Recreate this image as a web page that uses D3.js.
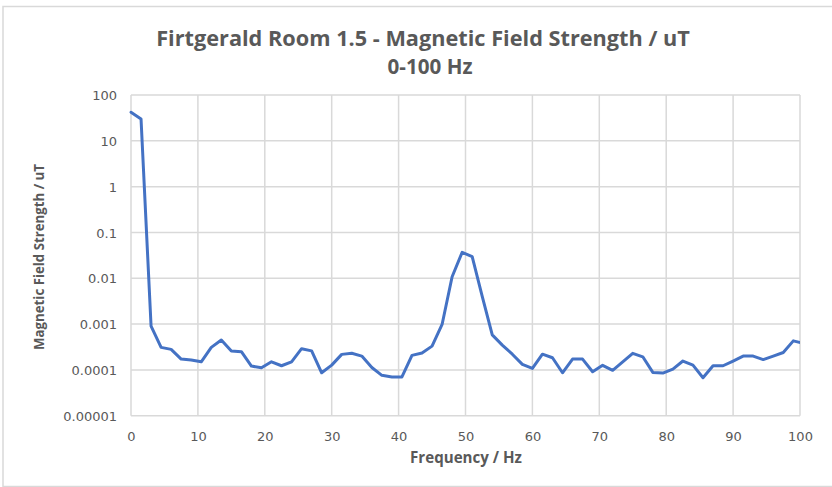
<!DOCTYPE html>
<html>
<head>
<meta charset="utf-8">
<script src="https://cdn.jsdelivr.net/npm/d3@7"></script>
<style>
  html, body { margin: 0; padding: 0; background: #fff; }
  svg { display: block; }
</style>
</head>
<body>
<svg id="chart" width="832" height="487"></svg>
<script>
const titleLines = ["Firtgerald Room 1.5 - Magnetic Field Strength / uT", "0-100 Hz"];
const xAxisTitle = "Frequency / Hz";
const yAxisTitle = "Magnetic Field Strength / uT";

const frequency = [0, 1.5, 3, 4.5, 6, 7.5, 9, 10.5, 12, 13.5, 15, 16.5, 18, 19.5, 21, 22.5, 24, 25.5, 27, 28.5,
  30, 31.5, 33, 34.5, 36, 37.5, 39, 40.5, 42, 43.5, 45, 46.5, 48, 49.5, 51, 52.5, 54, 55.5, 57, 58.5,
  60, 61.5, 63, 64.5, 66, 67.5, 69, 70.5, 72, 73.5, 75, 76.5, 78, 79.5, 81, 82.5, 84, 85.5, 87, 88.5,
  90, 91.5, 93, 94.5, 96, 97.5, 99, 100.5];
const strength = [42, 30, 0.0009, 0.00031, 0.00028, 0.000172, 0.000164, 0.00015, 0.00031, 0.00045,
  0.000257, 0.00025, 0.000121, 0.000111, 0.00015, 0.000123, 0.00015, 0.00029, 0.00026, 0.0000865,
  0.000127, 0.000218, 0.00023, 0.0002, 0.000113, 0.000076, 0.00007, 0.00007, 0.000207, 0.000233,
  0.00033, 0.00098, 0.0108, 0.0368, 0.0295, 0.004, 0.00058, 0.000348, 0.00022, 0.000132,
  0.000108, 0.00022, 0.000184, 0.0000865, 0.000172, 0.000172, 0.000091, 0.000126, 0.000098, 0.00015,
  0.00023, 0.000193, 0.000088, 0.000085, 0.000104, 0.000156, 0.000127, 0.0000673, 0.000123, 0.000123,
  0.000156, 0.0002, 0.0002, 0.000168, 0.0002, 0.00024, 0.00043, 0.00038];

const xTicks = [0, 10, 20, 30, 40, 50, 60, 70, 80, 90, 100];
const yTicks = [0.00001, 0.0001, 0.001, 0.01, 0.1, 1, 10, 100];
const yTickLabels = ["0.00001", "0.0001", "0.001", "0.01", "0.1", "1", "10", "100"];

const svg = d3.select("#chart");
const plot = { left: 131, right: 800, top: 95, bottom: 415.7 };
const grid = "#d9d9d9";
const textCol = "#595959";

// chart frame
svg.append("rect").attr("x", 3).attr("y", 6.5).attr("width", 900).attr("height", 480)
  .attr("fill", "#fff").attr("stroke", "#d9d9d9").attr("stroke-width", 1.5);

const x = d3.scaleLinear().domain([0, 100]).range([plot.left, plot.right]);
const y = d3.scaleLog().domain([0.00001, 100]).range([plot.bottom, plot.top]);

// gridlines
const g = svg.append("g");
g.selectAll("line.h").data(yTicks).join("line")
  .attr("x1", plot.left).attr("x2", plot.right)
  .attr("y1", d => y(d)).attr("y2", d => y(d))
  .attr("stroke", grid).attr("stroke-width", 1.5);
g.selectAll("line.v").data(xTicks).join("line")
  .attr("y1", plot.top).attr("y2", plot.bottom)
  .attr("x1", d => x(d)).attr("x2", d => x(d))
  .attr("stroke", grid).attr("stroke-width", 1.5);

// axes
const xAxis = d3.axisBottom(x).tickValues(xTicks).tickSize(0).tickPadding(0).tickFormat(d3.format("d"));
const xg = svg.append("g").attr("transform", `translate(0,${plot.bottom})`).call(xAxis);
xg.select(".domain").remove();
xg.selectAll("text").attr("dy", null).attr("y", 25)
  .attr("font-family", "DejaVu Sans").attr("font-size", 13).attr("fill", textCol);

const yAxis = d3.axisLeft(y).tickValues(yTicks).tickSize(0).tickPadding(0)
  .tickFormat((d, i) => yTickLabels[i]);
const yg = svg.append("g").attr("transform", `translate(${plot.left - 14},0)`).call(yAxis);
yg.select(".domain").remove();
yg.selectAll("text").attr("dy", "0.35em")
  .attr("font-family", "DejaVu Sans").attr("font-size", 13).attr("fill", textCol);

// clip
svg.append("clipPath").attr("id", "clip").append("rect")
  .attr("x", plot.left - 3).attr("y", plot.top - 5)
  .attr("width", plot.right - plot.left + 3).attr("height", plot.bottom - plot.top + 10);

const pts = frequency.map((f, i) => [f, strength[i]]);
const line = d3.line().x(d => x(d[0])).y(d => y(d[1]));
svg.append("path").datum(pts).attr("clip-path", "url(#clip)")
  .attr("d", line).attr("fill", "none").attr("stroke", "#4472c4")
  .attr("stroke-width", 3).attr("stroke-linejoin", "round").attr("stroke-linecap", "round");

// titles
function fit(sel, target) {
  const len = sel.node().getComputedTextLength();
  const fs = parseFloat(sel.attr("font-size"));
  sel.attr("font-size", fs * target / len);
  return fs * target / len;
}
const t1 = svg.append("text").attr("x", 423).attr("y", 46).attr("text-anchor", "middle")
  .attr("font-family", "Open Sans").attr("font-weight", "bold").attr("font-size", 17)
  .attr("fill", textCol).text(titleLines[0]);
const tfs = fit(t1, 534);
svg.append("text").attr("x", 430).attr("y", 74).attr("text-anchor", "middle")
  .attr("font-family", "Open Sans").attr("font-weight", "bold").attr("font-size", tfs * 0.95)
  .attr("fill", textCol).text(titleLines[1]);

const xt = svg.append("text").attr("x", 466).attr("y", 463).attr("text-anchor", "middle")
  .attr("font-family", "Open Sans").attr("font-weight", "bold").attr("font-size", 13)
  .attr("fill", textCol).text(xAxisTitle);
fit(xt, 112);

const yt = svg.append("text").attr("transform", "translate(44,257) rotate(-90)")
  .attr("text-anchor", "middle")
  .attr("font-family", "Open Sans").attr("font-weight", "bold").attr("font-size", 13)
  .attr("fill", textCol).text(yAxisTitle);
fit(yt, 186);
</script>
</body>
</html>
